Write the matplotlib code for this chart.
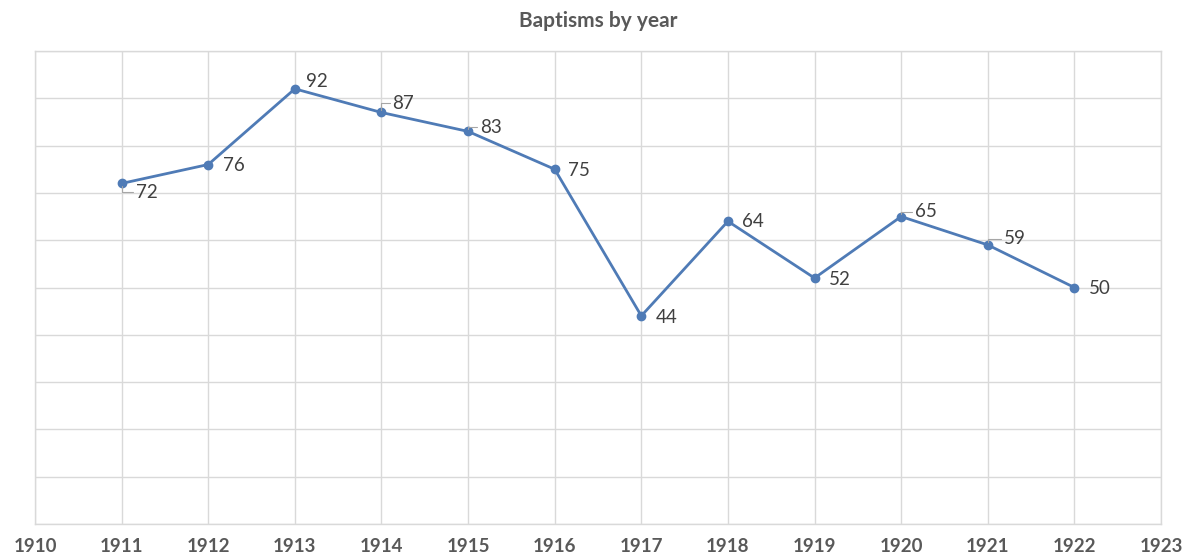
import matplotlib
matplotlib.use("Agg")
import matplotlib.pyplot as plt

years = [1911, 1912, 1913, 1914, 1915, 1916, 1917, 1918, 1919, 1920, 1921, 1922]
baptisms = [72, 76, 92, 87, 83, 75, 44, 64, 52, 65, 59, 50]
tick_years = list(range(1910, 1924))

# label offsets in pixels (dx, dy) and whether a leader line is drawn
offsets = [(14, -9), (15, -1), (11, 7), (11, 9), (12, 4), (13, -1),
           (14, -2), (14, 0), (14, -1), (14, 5), (16, 6), (15, -1)]
leaders = [True, False, False, True, True, False, False, False, False, True, True, False]

plt.rcParams['font.family'] = ['Lato', 'DejaVu Sans']

fig = plt.figure(figsize=(11.89, 5.53), dpi=100)
ax = fig.add_axes([35/1189, 29/553, (1161-35)/1189, (524-51)/553])

ax.set_xlim(1910, 1923)
ax.set_ylim(0, 100)
ax.set_xticks(tick_years)
ax.set_xticklabels([str(y) for y in tick_years], fontsize=13.5, color='#595959', fontweight='bold')
ax.set_yticks(range(0, 101, 10))
ax.set_yticklabels([])
ax.tick_params(axis='both', length=0, pad=10)
ax.grid(True, color='#d9d9d9', lw=1)
for s in ax.spines.values():
    s.set_color('#d9d9d9')
    s.set_linewidth(1)
ax.set_axisbelow(True)

ax.plot(years, baptisms, color='#4f7bb6', lw=2, marker='o', ms=6, zorder=3)

for x, y, (dx, dy), ld in zip(years, baptisms, offsets, leaders):
    kw = {}
    if ld:
        kw['arrowprops'] = dict(arrowstyle='-', color='#a6a6a6', lw=0.8,
                                shrinkA=0, shrinkB=2,
                                connectionstyle='angle,angleA=0,angleB=90,rad=0')
    ax.annotate(str(y), xy=(x, y), xytext=(dx, dy), textcoords='offset pixels',
                ha='left', va='center', fontsize=13.5, color='#404040', **kw)

fig.text(598/1189, 1 - 21/553, 'Baptisms by year', ha='center', va='center',
         fontsize=15, fontweight='bold', color='#595959')

fig.savefig('out.png', dpi=100, facecolor='white')
